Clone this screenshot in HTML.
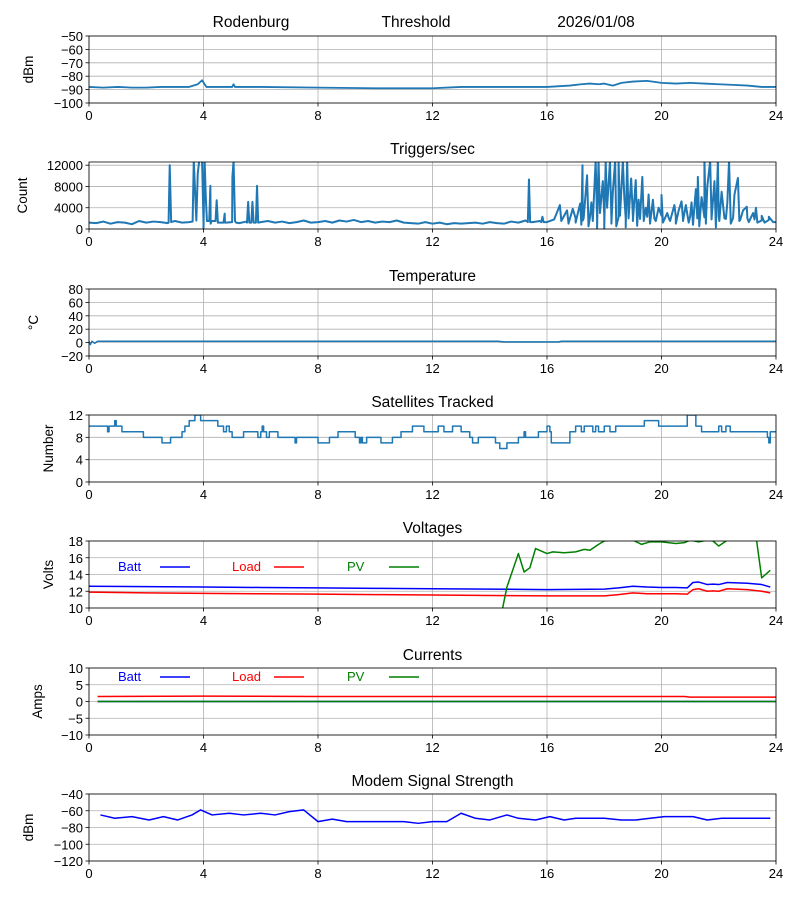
<!DOCTYPE html>
<html><head><meta charset="utf-8">
<style>
html,body{margin:0;padding:0;background:#fff;}
svg{display:block;font-family:"Liberation Sans","DejaVu Sans",sans-serif;}
</style></head>
<body>
<svg id="chart" width="800" height="900" viewBox="0 0 800 900" xmlns="http://www.w3.org/2000/svg">
<text x="251" y="27" font-size="15.5" text-anchor="middle">Rodenburg</text>
<text x="416" y="27" font-size="15.5" text-anchor="middle">Threshold</text>
<text x="596" y="27" font-size="15.5" text-anchor="middle">2026/01/08</text>
</svg>
<script>
// ---- data ----
const xTicks = [0,4,8,12,16,20,24];

const dbmT = [0,0.5,1,1.5,2,2.5,3,3.5,3.8,3.95,4.1,4.5,5,5.05,5.1,5.2,6,8,10,12,13,14,16,16.8,17.2,17.5,17.8,18,18.3,18.6,19,19.5,20,20.5,21,21.5,22,22.5,23,23.5,24];
const dbmV = [-88,-88.5,-88,-88.5,-88.5,-88,-88,-88,-86,-83,-88,-88,-88,-86,-88,-88,-88,-88.5,-89,-89,-88,-88,-88,-87,-86,-85.5,-86,-85.5,-87,-85,-84,-83.5,-85,-85.5,-85,-85.5,-86,-86.5,-87,-88,-88];

const trigBase = [1200,1100,1400,1000,1300,1200,900,1500,1200,1400,1300,1100,1500,1200,1300,1600,1200,1000,1500,1200,1300,1100,1400,1200,1300,1500,1200,1400,1100,1300,1600,1200,1300,1500,1200,1600,1400,1700,1300,1500,1200,1400,1300,1600,1200,1100,1000,1300,1000,1200,900,1100,1000,1100,1200,1000,1300,1100,1000,1400,1200,1600,1300,1500,1300,1800,1500,1200,2000,1600,2200,1900,2500,1800,2200,2000,2400,1900,2300,2000,2500,2100,2300,1900,2400,2000,2200,1800,2300,1900,2100,1700,2000,1800,1600,1700,1300];
const trigSpikeT = [2.78,2.82,2.87,3.62,3.66,3.8,3.85,3.95,4.0,4.04,4.08,4.12,4.2,4.24,4.28,4.42,4.46,4.5,4.7,4.74,4.78,5.01,5.05,5.1,5.14,5.52,5.56,5.6,5.67,5.71,5.75,5.83,5.87,5.91,15.33,15.37,15.41,15.8,15.84,15.88,
16.45,16.5,16.7,16.75,16.9,17.0,17.1,17.16,17.2,17.24,17.28,17.4,17.45,17.55,17.6,17.7,17.75,17.8,17.85,17.95,18.0,18.05,18.1,18.2,18.25,18.3,18.38,18.42,18.5,18.55,18.65,18.7,18.75,18.8,18.85,18.94,19.0,19.1,19.15,19.2,19.33,19.38,19.45,19.55,19.6,19.7,19.8,19.9,20.0,20.05,20.2,20.3,20.45,20.5,20.6,20.7,20.75,20.85,20.95,21.05,21.1,21.2,21.27,21.32,21.4,21.5,21.55,21.6,21.7,21.75,21.85,21.9,21.97,22.02,22.1,22.2,22.3,22.36,22.42,22.55,22.67,22.72,22.85,22.98,23.05,23.2,23.3,23.35,23.5,23.6,23.75,23.9];
const trigSpikeV = [1200,12000,1300,1400,12800,10500,12800,12800,100,12800,6000,1500,1500,8100,1500,1500,5400,1200,1200,2900,1200,9800,12800,1500,1200,1200,5100,1200,1200,5100,1200,1200,8100,1200,1300,9300,1300,1300,2300,1300,
4500,1500,3500,1000,3800,1200,3500,4800,800,12000,2000,10100,500,5000,1500,12800,200,12800,3000,9000,100,12800,4000,12800,1000,7000,12800,500,12800,2500,12800,6000,300,12800,2000,9500,1500,9200,600,5500,9800,1500,4000,6500,1000,5500,1500,4000,6400,1200,3000,1500,4500,1000,3500,5200,1500,4500,1200,5000,800,7500,9800,500,6000,12800,1000,8000,12800,2000,9000,300,12800,1500,7000,2000,5000,12800,1000,6500,9600,1500,3500,4200,1300,3000,4000,1200,2500,1200,2300,1300];

const tempT = [0,0.05,0.1,0.2,0.3,14.3,14.5,16.4,16.5,24];
const tempV = [2,-3,2,-1,2,2,1,1,2,2];

const satT = [0,0.65,0.7,0.9,0.95,1.15,1.9,2.55,2.85,3.25,3.35,3.5,3.7,3.9,4.5,4.7,4.8,4.9,5.0,5.4,5.9,6.0,6.05,6.1,6.2,6.3,6.6,7.2,7.25,8.0,8.4,8.7,9.3,9.45,9.5,9.55,9.7,10.2,10.6,10.9,11.3,11.7,12.2,12.4,12.7,13.0,13.3,13.4,13.6,14.2,14.35,14.6,15.0,15.2,15.25,15.7,16.0,16.1,16.15,16.8,17.0,17.2,17.3,17.6,17.7,17.8,18.0,18.2,18.4,18.8,19.4,19.9,20.9,21.2,21.4,22.0,22.1,22.25,22.4,23.7,23.75,23.8,24];
const satV = [10,9,10,11,10,9,8,7,8,9,10,11,12,11,10,9,10,9,8,9,8,9,10,9,8,9,8,7,8,7,8,9,8,7,8,7,8,7,8,9,10,9,10,9,10,9,8,7,8,7,6,7,8,9,8,9,10,9,7,9,10,9,10,9,10,9,10,9,10,10,11,10,12,10,9,10,9,10,9,8,7,9,9];

const voltT = [0,2,4,6,8,10,12,14,16,18,18.5,19,19.5,20,20.5,20.9,21.1,21.3,21.6,21.8,22,22.3,23,23.5,23.8];
const battV = [12.6,12.55,12.5,12.45,12.4,12.35,12.3,12.25,12.2,12.25,12.4,12.6,12.5,12.45,12.45,12.4,13.05,13.1,12.8,12.85,12.8,13.05,12.95,12.8,12.5];
const loadV = [11.9,11.8,11.75,11.7,11.65,11.6,11.55,11.5,11.45,11.45,11.6,11.8,11.7,11.7,11.7,11.65,12.2,12.3,12.0,12.05,12.0,12.3,12.2,12.0,11.8];
const pvT = [14.45,14.6,14.8,15.0,15.2,15.4,15.6,15.8,16.0,16.2,16.6,17.0,17.3,17.5,17.8,18.0,18.5,19.0,19.3,19.6,20.0,20.5,20.8,21.0,21.3,21.6,21.8,22.0,22.3,22.6,23.0,23.3,23.5,23.8];
const pvV = [10,12.5,14.5,16.5,14.3,14.8,17.1,16.8,16.5,16.7,16.6,16.7,17.0,16.9,17.6,18.0,18.2,18.1,17.6,17.9,17.9,17.7,17.8,18.1,17.9,18.1,18.0,17.4,18.1,18.6,18.8,18.6,13.6,14.5];

const curT = [0.3,4,8,12,16,20,20.8,21,24];
const curBatt = [0,0,0,0,0,0,0,0,0];
const curLoad = [1.5,1.6,1.5,1.5,1.5,1.5,1.5,1.3,1.3];
const curPV = [0,0,0,0,0,0,0,0,0];

const modemT = [0.4,0.9,1.5,2.1,2.6,3.1,3.6,3.9,4.3,4.9,5.4,6,6.5,7,7.5,8,8.5,9,9.5,10,10.5,11,11.5,12,12.5,13,13.5,14,14.6,15,15.6,16.1,16.6,17,17.5,18,18.6,19.1,19.6,20.1,20.6,21.1,21.6,22.1,22.6,23.1,23.8];
const modemV = [-65,-69,-67,-71,-67,-71,-65,-59,-65,-63,-65,-63,-65,-61,-59,-73,-70,-73,-73,-73,-73,-73,-75,-73,-73,-63,-69,-71,-65,-69,-71,-67,-71,-69,-69,-69,-71,-71,-69,-67,-67,-67,-71,-69,-69,-69,-69];

// ---- drawing ----
const NS = "http://www.w3.org/2000/svg";
const svg = document.getElementById('chart');
const X0 = 89, X1 = 776;
function el(tag, attrs, parent){ const e=document.createElementNS(NS,tag); for(const k in attrs) e.setAttribute(k,attrs[k]); (parent||svg).appendChild(e); return e; }
function fmt(v){ return v<0 ? '\u2212'+Math.abs(v) : String(v); }

function panel(p){
  const g = el('g',{});
  
  
  const xs = h => X0 + (h/24)*(X1-X0);
  const ys = v => p.bottom - (v-p.ymin)/(p.ymax-p.ymin)*(p.bottom-p.top);
  const cp = el('clipPath',{id:'clip-'+p.name}, g);
  el('rect',{x:X0,y:p.top,width:X1-X0,height:p.bottom-p.top}, cp);
  xTicks.forEach(t=>{
    const l = el('line',{x1:xs(t),x2:xs(t),y1:p.top,y2:p.bottom,stroke:'#b0b0b0','stroke-width':0.8}, g);
    
    
  });
  p.yTicks.forEach(t=>{
    const l = el('line',{x1:X0,x2:X1,y1:ys(t),y2:ys(t),stroke:'#b0b0b0','stroke-width':0.8}, g);
    
    
  });
  const sg = el('g',{'clip-path':'url(#clip-'+p.name+')'}, g);
  p.series.forEach(s=>{
    let d='';
    for(let i=0;i<s.t.length;i++){
      const x=xs(s.t[i]), y=ys(s.v[i]);
      if(s.step && i>0) d+='L'+x.toFixed(2)+','+ys(s.v[i-1]).toFixed(2);
      d+=(i?'L':'M')+x.toFixed(2)+','+y.toFixed(2);
    }
    const path = el('path',{d:d,fill:'none',stroke:s.color,'stroke-width':s.w||1.5,'stroke-linejoin':'round'}, sg);
    
    
  });
  el('rect',{x:X0,y:p.top,width:X1-X0,height:p.bottom-p.top,fill:'none',stroke:'#000','stroke-width':0.8}, g);
  xTicks.forEach(t=>{
    el('line',{x1:xs(t),x2:xs(t),y1:p.bottom,y2:p.bottom+3.5,stroke:'#000','stroke-width':0.8}, g);
    const tx = el('text',{x:xs(t),y:p.bottom+17,'font-size':13,'text-anchor':'middle'}, g);
    tx.textContent = fmt(t);
    
    
  });
  p.yTicks.forEach(t=>{
    el('line',{x1:X0-3.5,x2:X0,y1:ys(t),y2:ys(t),stroke:'#000','stroke-width':0.8}, g);
    const tx = el('text',{x:X0-6,y:ys(t)+5,'font-size':13,'text-anchor':'end'}, g);
    tx.textContent = fmt(t);
    
    
  });
  if(p.title){
    const tt = el('text',{x:(X0+X1)/2,y:p.top-8,'font-size':15.5,'text-anchor':'middle'}, g);
    tt.textContent = p.title;
    
    
  }
  const yl = el('text',{x:0,y:0,'font-size':13.5,'text-anchor':'middle',transform:'translate('+p.ylx+','+((p.top+p.bottom)/2)+') rotate(-90)'}, g);
  yl.textContent = p.ylabel;
  
  
  if(p.legend){
    const items=[['Batt','#0000ff',118],['Load','#ff0000',232],['PV','#008000',347]];
    items.forEach(it=>{
      const lt = el('text',{x:it[2],y:p.legendY+5,'font-size':13,fill:it[1]}, g);
      lt.textContent = it[0];
      
      
      el('line',{x1:it[2]+42,x2:it[2]+72,y1:p.legendY+1,y2:p.legendY+1,stroke:it[1],'stroke-width':1.5}, g);
    });
  }
}

const trigPts = [];
trigBase.forEach((v,i)=>trigPts.push([i*0.25, v]));
trigSpikeT.forEach((t,i)=>trigPts.push([t, trigSpikeV[i]]));
trigPts.sort((a,b)=>a[0]-b[0]);

const C = '#1f77b4';
panel({name:'signal',top:36,bottom:103,ymin:-100,ymax:-50,yTicks:[-100,-90,-80,-70,-60,-50],ylabel:'dBm',ylx:33,
  series:[{name:'signal-line',t:dbmT,v:dbmV,color:C,w:1.8}]});
panel({name:'triggers',title:'Triggers/sec',top:162,bottom:229,ymin:0,ymax:12600,yTicks:[0,4000,8000,12000],ylabel:'Count',ylx:27,
  series:[{name:'triggers-line',t:trigPts.map(p=>p[0]),v:trigPts.map(p=>p[1]),color:C,w:2}]});
panel({name:'temperature',title:'Temperature',top:289,bottom:356,ymin:-20,ymax:80,yTicks:[-20,0,20,40,60,80],ylabel:'\u00B0C',ylx:38,
  series:[{name:'temperature-line',t:tempT,v:tempV,color:C}]});
panel({name:'satellites',title:'Satellites Tracked',top:415,bottom:482,ymin:0,ymax:12,yTicks:[0,4,8,12],ylabel:'Number',ylx:53,
  series:[{name:'satellites-line',t:satT,v:satV,color:C,step:true}]});
panel({name:'voltages',title:'Voltages',top:541,bottom:608,ymin:10,ymax:18,yTicks:[10,12,14,16,18],ylabel:'Volts',ylx:53,legend:true,legendY:566,
  series:[{name:'batt-voltage-line',t:voltT,v:battV,color:'#0000ff'},{name:'load-voltage-line',t:voltT,v:loadV,color:'#ff0000'},{name:'pv-voltage-line',t:pvT,v:pvV,color:'#008000'}]});
panel({name:'currents',title:'Currents',top:668,bottom:735,ymin:-10,ymax:10,yTicks:[-10,-5,0,5,10],ylabel:'Amps',ylx:42,legend:true,legendY:676,
  series:[{name:'batt-current-line',t:curT,v:curBatt,color:'#0000ff'},{name:'load-current-line',t:curT,v:curLoad,color:'#ff0000'},{name:'pv-current-line',t:curT,v:curPV,color:'#008000'}]});
panel({name:'modem',title:'Modem Signal Strength',top:794,bottom:861,ymin:-120,ymax:-40,yTicks:[-120,-100,-80,-60,-40],ylabel:'dBm',ylx:33,
  series:[{name:'modem-line',t:modemT,v:modemV,color:'#0000ff'}]});
</script>
</body></html>
